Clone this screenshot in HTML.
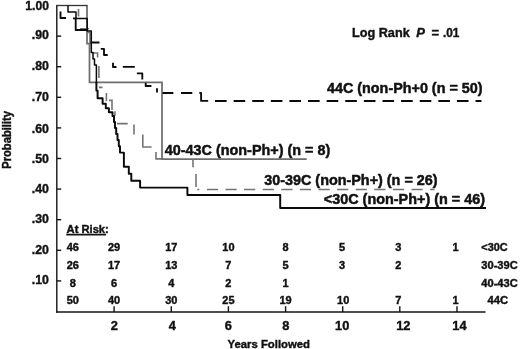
<!DOCTYPE html><html><head><meta charset="utf-8"><title>Kaplan-Meier</title>
<style>html,body{margin:0;padding:0;background:#fff}svg{display:block}text{font-family:"Liberation Sans", sans-serif;font-weight:bold;fill:#111;stroke:#111;stroke-width:0.4px}</style></head><body>
<svg width="520" height="349" viewBox="0 0 520 349">
<rect width="520" height="349" fill="#fff"/>
<g stroke="#141414" stroke-width="1.4" fill="none">
<path d="M56.8,5 V312.7"/>
<path d="M56.1,312 H485.5"/>
<path d="M57,280.9 H61.2"/>
<path d="M57,250.3 H61.2"/>
<path d="M57,219.7 H61.2"/>
<path d="M57,189.1 H61.2"/>
<path d="M57,158.5 H61.2"/>
<path d="M57,127.9 H61.2"/>
<path d="M57,97.3 H61.2"/>
<path d="M57,66.7 H61.2"/>
<path d="M57,36.1 H61.2"/>
<path d="M114.1,306.2 V312"/>
<path d="M171.3,306.2 V312"/>
<path d="M228.4,306.2 V312"/>
<path d="M285.6,306.2 V312"/>
<path d="M342.7,306.2 V312"/>
<path d="M399.8,306.2 V312"/>
<path d="M457.0,306.2 V312"/>
</g>
<path d="M87,5.5 V43.6 H89.5 V82.3 H162 V159 H306.7" stroke="#6e6e6e" stroke-width="1.75" fill="none"/><path d="M56.2,5.5 H87.6" stroke="#333" stroke-width="1.3" fill="none"/>
<path d="M78.5,9 V16.5 M80,28.7 H89 M87,32.5 H90 V44 M92.6,53 H97.6 V57.6 M98.9,66 V78 M98.9,87.4 H102.6 M106.4,93 V101.3 M109,100.4 H112 V110 M115,111.3 V115.7 M117,123.6 H127.7 M134,124.5 V134.6 M142.8,134.6 V147 H151.6 M156,152 V158.9 H162 M193,159.6 V167.3 M196,174 V187 M197.3,189.5 H199.3 M206.90,189.5 H218.10 M225.50,189.5 H236.70 M244.10,189.5 H255.30 M262.70,189.5 H273.90 M281.30,189.5 H292.50 M299.90,189.5 H311.10 M318.50,189.5 H329.70 M337.10,189.5 H348.30 M355.70,189.5 H366.90 M374.30,189.5 H385.50 M392.90,189.5 H404.10 M411.50,189.5 H422.70 M430.10,189.5 H434.50" stroke="#747474" stroke-width="1.6" fill="none"/>
<path d="M60.5,11.5 V18 H66 M73,18.3 H75.7 V30 H88 M90.7,42.5 H99.5 M100.8,48.8 H104 V55 H107.7 M113,62.7 V67 H116.5 M122.8,66.8 H134.8 M136.9,73.3 H142.3 V79.6 M145.7,82.7 V86 H151.4 M157,88.3 V92.5 M162.5,93 H173.4 M181,93 H192.3 M199.3,92.9 H201.1 V100.9 H208.2 M215.00,101 H226.60 M233.61,101 H245.21 M252.22,101 H263.82 M270.83,101 H282.43 M289.44,101 H301.04 M308.05,101 H319.65 M326.66,101 H338.26 M345.27,101 H356.87 M363.88,101 H375.48 M382.49,101 H394.09 M401.10,101 H412.70 M419.71,101 H431.31 M438.32,101 H449.92 M456.93,101 H468.53 M475.54,101 H481.50" stroke="#0a0a0a" stroke-width="1.85" fill="none" stroke-linejoin="round"/>
<path d="M68,5.5 V12 H76 V18.5 H87.2 V31 H91.3 V52.6 H93 V59 H94.5 V65 H96.4 V83" stroke="#0a0a0a" stroke-width="1.5" fill="none" stroke-linejoin="round"/>
<path d="M96.4,82 V90.6 H97.6 V98.2 H102.6 V103.8 H105.8 V108.2 H108.9 V112.3 H112.5 V116 H114 V122 H115 V128 H116.2 V134 H117.5 V140 H118.8 V146.3 H120 V152.6 H123.9 V166.7 H128.8 V173.8 H131.3 V180.7 H140.1 V187.6 H187.4 V195 H280.2 V208 H486" stroke="#0a0a0a" stroke-width="1.95" fill="none" stroke-linejoin="round"/>
<text x="48.9" y="284.3" font-size="12.8" text-anchor="end" textLength="17.1" lengthAdjust="spacingAndGlyphs">.10</text>
<text x="48.9" y="253.6" font-size="12.8" text-anchor="end" textLength="17.1" lengthAdjust="spacingAndGlyphs">.20</text>
<text x="48.9" y="223.3" font-size="12.8" text-anchor="end" textLength="17.1" lengthAdjust="spacingAndGlyphs">.30</text>
<text x="48.9" y="192.9" font-size="12.8" text-anchor="end" textLength="17.1" lengthAdjust="spacingAndGlyphs">.40</text>
<text x="48.9" y="162.8" font-size="12.8" text-anchor="end" textLength="17.1" lengthAdjust="spacingAndGlyphs">.50</text>
<text x="48.9" y="132.7" font-size="12.8" text-anchor="end" textLength="17.1" lengthAdjust="spacingAndGlyphs">.60</text>
<text x="48.9" y="101.2" font-size="12.8" text-anchor="end" textLength="17.1" lengthAdjust="spacingAndGlyphs">.70</text>
<text x="48.9" y="69.8" font-size="12.8" text-anchor="end" textLength="17.1" lengthAdjust="spacingAndGlyphs">.80</text>
<text x="48.9" y="39.0" font-size="12.8" text-anchor="end" textLength="17.1" lengthAdjust="spacingAndGlyphs">.90</text>
<text x="48.9" y="10.3" font-size="12.8" text-anchor="end" textLength="23.6" lengthAdjust="spacingAndGlyphs">1.00</text>
<text x="114.3" y="330.0" font-size="12.8" text-anchor="middle">2</text>
<text x="172.3" y="330.0" font-size="12.8" text-anchor="middle">4</text>
<text x="228.3" y="330.0" font-size="12.8" text-anchor="middle">6</text>
<text x="285.8" y="330.0" font-size="12.8" text-anchor="middle">8</text>
<text x="342.2" y="330.0" font-size="12.8" text-anchor="middle">10</text>
<text x="403.3" y="330.0" font-size="12.8" text-anchor="middle">12</text>
<text x="459.4" y="330.0" font-size="12.8" text-anchor="middle">14</text>
<text x="227.5" y="347.6" font-size="11.5" text-anchor="start" textLength="82.5" lengthAdjust="spacingAndGlyphs">Years Followed</text>
<text transform="translate(11.3,168.8) rotate(-90)" font-size="12" textLength="57.8" lengthAdjust="spacingAndGlyphs">Probability</text>
<text x="327" y="92.5" font-size="15" text-anchor="start" textLength="155.5" lengthAdjust="spacingAndGlyphs" style="stroke-width:0.5px">44C (non-Ph+0 (n = 50)</text>
<text x="164.8" y="155.2" font-size="15" text-anchor="start" textLength="165.4" lengthAdjust="spacingAndGlyphs" style="stroke-width:0.5px">40-43C (non-Ph+) (n = 8)</text>
<text x="264.2" y="184.9" font-size="15" text-anchor="start" textLength="173.4" lengthAdjust="spacingAndGlyphs" style="stroke-width:0.5px">30-39C (non-Ph+) (n = 26)</text>
<text x="323.8" y="203.9" font-size="15" text-anchor="start" textLength="161.2" lengthAdjust="spacingAndGlyphs" style="stroke-width:0.5px">&lt;30C (non-Ph+) (n = 46)</text>
<text y="36.5" font-size="13"><tspan x="352" textLength="57.7" lengthAdjust="spacingAndGlyphs">Log Rank</tspan> <tspan x="416.2" font-style="italic">P</tspan> <tspan x="431.4">=</tspan> <tspan x="443" textLength="16.4" lengthAdjust="spacingAndGlyphs">.01</tspan></text>
<text x="66.6" y="232.8" font-size="10.3" textLength="42.2" lengthAdjust="spacingAndGlyphs">At Risk:</text>
<path d="M66.3,234.7 H106" stroke="#141414" stroke-width="1.7"/>
<text x="72.8" y="250.6" font-size="10.4" text-anchor="middle" textLength="12.2" lengthAdjust="spacingAndGlyphs">46</text>
<text x="114.1" y="250.6" font-size="10.4" text-anchor="middle" textLength="12.2" lengthAdjust="spacingAndGlyphs">29</text>
<text x="171.3" y="250.6" font-size="10.4" text-anchor="middle" textLength="12.2" lengthAdjust="spacingAndGlyphs">17</text>
<text x="228.4" y="250.6" font-size="10.4" text-anchor="middle" textLength="12.2" lengthAdjust="spacingAndGlyphs">10</text>
<text x="285.6" y="250.6" font-size="10.4" text-anchor="middle" textLength="6.1" lengthAdjust="spacingAndGlyphs">8</text>
<text x="342.1" y="250.6" font-size="10.4" text-anchor="middle" textLength="6.1" lengthAdjust="spacingAndGlyphs">5</text>
<text x="398.2" y="250.6" font-size="10.4" text-anchor="middle" textLength="6.1" lengthAdjust="spacingAndGlyphs">3</text>
<text x="455.6" y="250.6" font-size="10.4" text-anchor="middle" textLength="6.1" lengthAdjust="spacingAndGlyphs">1</text>
<text x="481.3" y="250.6" font-size="10.4" text-anchor="start" textLength="26.4" lengthAdjust="spacingAndGlyphs">&lt;30C</text>
<text x="72.8" y="268.9" font-size="10.4" text-anchor="middle" textLength="12.2" lengthAdjust="spacingAndGlyphs">26</text>
<text x="114.1" y="268.9" font-size="10.4" text-anchor="middle" textLength="12.2" lengthAdjust="spacingAndGlyphs">17</text>
<text x="171.3" y="268.9" font-size="10.4" text-anchor="middle" textLength="12.2" lengthAdjust="spacingAndGlyphs">13</text>
<text x="228.4" y="268.9" font-size="10.4" text-anchor="middle" textLength="6.1" lengthAdjust="spacingAndGlyphs">7</text>
<text x="285.6" y="268.9" font-size="10.4" text-anchor="middle" textLength="6.1" lengthAdjust="spacingAndGlyphs">5</text>
<text x="342.1" y="268.9" font-size="10.4" text-anchor="middle" textLength="6.1" lengthAdjust="spacingAndGlyphs">3</text>
<text x="398.2" y="268.9" font-size="10.4" text-anchor="middle" textLength="6.1" lengthAdjust="spacingAndGlyphs">2</text>
<text x="481.3" y="268.9" font-size="10.4" text-anchor="start" textLength="36.4" lengthAdjust="spacingAndGlyphs">30-39C</text>
<text x="72.8" y="286.8" font-size="10.4" text-anchor="middle" textLength="6.1" lengthAdjust="spacingAndGlyphs">8</text>
<text x="114.1" y="286.8" font-size="10.4" text-anchor="middle" textLength="6.1" lengthAdjust="spacingAndGlyphs">6</text>
<text x="171.3" y="286.8" font-size="10.4" text-anchor="middle" textLength="6.1" lengthAdjust="spacingAndGlyphs">4</text>
<text x="228.4" y="286.8" font-size="10.4" text-anchor="middle" textLength="6.1" lengthAdjust="spacingAndGlyphs">2</text>
<text x="285.6" y="286.8" font-size="10.4" text-anchor="middle" textLength="6.1" lengthAdjust="spacingAndGlyphs">1</text>
<text x="481.3" y="286.8" font-size="10.4" text-anchor="start" textLength="36.4" lengthAdjust="spacingAndGlyphs">40-43C</text>
<text x="72.8" y="304.2" font-size="10.4" text-anchor="middle" textLength="12.2" lengthAdjust="spacingAndGlyphs">50</text>
<text x="114.1" y="304.2" font-size="10.4" text-anchor="middle" textLength="12.2" lengthAdjust="spacingAndGlyphs">40</text>
<text x="171.3" y="304.2" font-size="10.4" text-anchor="middle" textLength="12.2" lengthAdjust="spacingAndGlyphs">30</text>
<text x="228.4" y="304.2" font-size="10.4" text-anchor="middle" textLength="12.2" lengthAdjust="spacingAndGlyphs">25</text>
<text x="285.6" y="304.2" font-size="10.4" text-anchor="middle" textLength="12.2" lengthAdjust="spacingAndGlyphs">19</text>
<text x="343.2" y="304.2" font-size="10.4" text-anchor="middle" textLength="12.2" lengthAdjust="spacingAndGlyphs">10</text>
<text x="398.2" y="304.2" font-size="10.4" text-anchor="middle" textLength="6.1" lengthAdjust="spacingAndGlyphs">7</text>
<text x="455.6" y="304.2" font-size="10.4" text-anchor="middle" textLength="6.1" lengthAdjust="spacingAndGlyphs">1</text>
<text x="487.6" y="304.2" font-size="10.4" text-anchor="start" textLength="20.6" lengthAdjust="spacingAndGlyphs">44C</text>
</svg></body></html>
